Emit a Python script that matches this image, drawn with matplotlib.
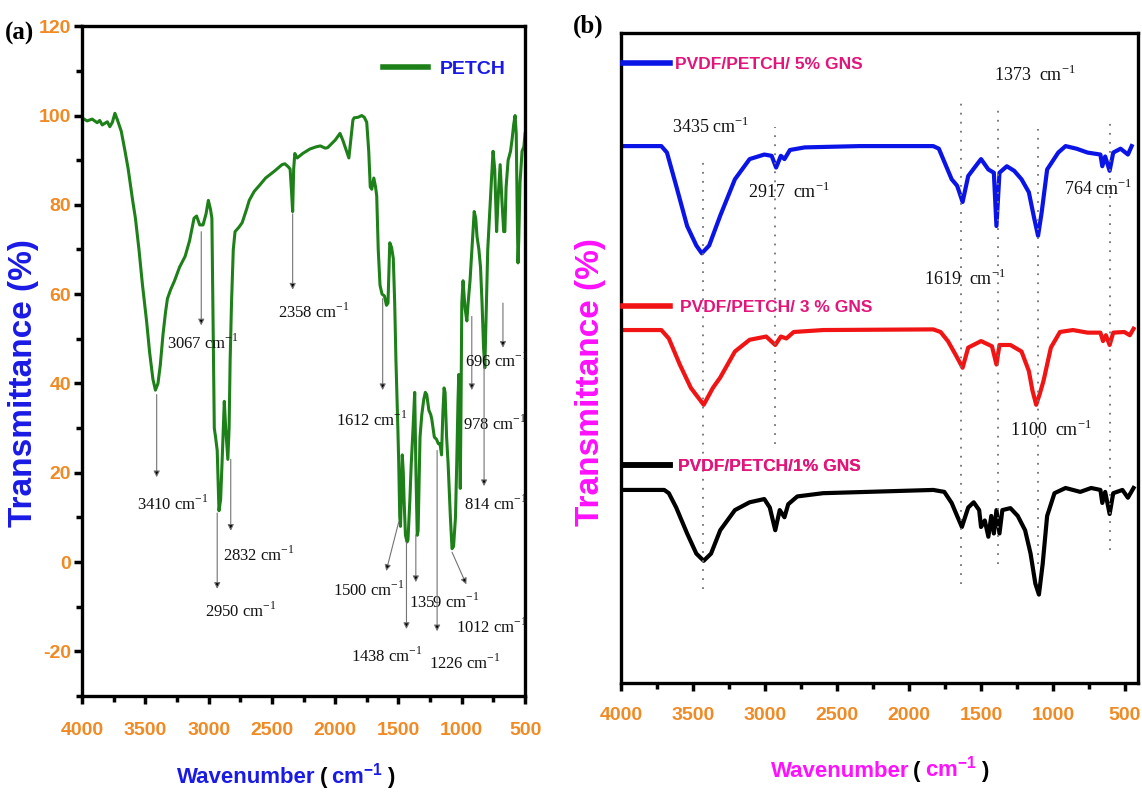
import matplotlib
matplotlib.use('Agg')
import matplotlib.pyplot as plt
from matplotlib.ticker import MultipleLocator
from matplotlib.lines import Line2D
from matplotlib.offsetbox import TextArea, HPacker, AnchoredOffsetbox

plt.rcParams['font.family'] = 'Liberation Sans'
plt.rcParams['mathtext.fontset'] = 'custom'
plt.rcParams['mathtext.rm'] = 'Liberation Serif'
plt.rcParams['mathtext.bf'] = 'Liberation Sans:bold'
plt.rcParams['axes.unicode_minus'] = False

# ---- panel (a): PETCH spectrum ----
petch_wn = [4000, 3960, 3920, 3880, 3860, 3840, 3800, 3780, 3760, 3740, 3720, 3690, 3660, 3635,
            3600, 3578, 3550, 3522, 3490, 3466, 3440, 3420, 3400, 3382, 3360, 3340, 3325, 3300,
            3269, 3230, 3185, 3150, 3115, 3095, 3070, 3044, 3020, 3002, 2985, 2974, 2965, 2955,
            2945, 2932, 2918, 2905, 2890, 2876, 2865, 2848, 2838, 2830, 2819, 2805, 2791, 2760,
            2735, 2700, 2679, 2640, 2594, 2550, 2482, 2420, 2398, 2370, 2356, 2345, 2336, 2328,
            2319, 2300, 2257, 2200, 2150, 2117, 2080, 2060, 2000, 1962, 1940, 1910, 1892, 1875,
            1860, 1850, 1820, 1790, 1770, 1751, 1735, 1723, 1711, 1695, 1681, 1672, 1660, 1646,
            1630, 1611, 1595, 1583, 1575, 1569, 1555, 1541, 1530, 1520, 1512, 1505, 1498, 1490,
            1484, 1478, 1470, 1462, 1456, 1445, 1432, 1425, 1410, 1400, 1385, 1372, 1362, 1352,
            1345, 1330, 1316, 1300, 1288, 1277, 1260, 1245, 1237, 1217, 1200, 1185, 1172, 1160,
            1150, 1140, 1132, 1120, 1108, 1090, 1077, 1065, 1050, 1040, 1030, 1024, 1018, 1012,
            1006, 1000, 990, 975, 960, 950, 935, 920, 902, 890, 880, 865, 852, 840, 828, 818,
            808, 795, 781, 765, 753, 740, 725, 712, 697, 690, 683, 669, 660, 650, 634, 615, 603,
            590, 579, 570, 563, 556, 550, 540, 524, 510, 500]
petch_t = [99.5, 98.8, 99.2, 98.4, 98.9, 97.9, 98.6, 97.5, 98.5, 100.5, 99.0, 96.5, 92, 88,
           81, 77, 70, 62, 54, 47, 41, 38.5, 40, 44, 51, 56, 59, 61,
           63, 66, 68.5, 72, 77, 77.5, 75.5, 75.5, 78, 81, 79, 77, 55, 30,
           28, 25, 11.5, 14, 25, 36, 30, 23, 30, 45, 58, 70, 74, 75,
           76, 79, 81, 83, 84.5, 86, 87.5, 89, 89.2, 88.5, 88, 83, 78.5, 88,
           91.5, 90.5, 91.5, 92.5, 93, 93.2, 92.7, 92.8, 94.5, 96, 94.5, 92, 90.5, 95,
           99, 99.5, 99.6, 100, 99.6, 98.5, 92, 84, 83.5, 86, 84, 82, 70, 62,
           60, 59.6, 57.5, 58, 66, 71.5, 70.5, 68, 58, 45, 37, 30, 22, 10,
           8, 15, 24, 20, 14, 6, 4.5, 5, 14, 21.5, 30, 38, 20, 6,
           7, 28, 33, 36.5, 38, 37.5, 34, 33, 32, 28, 27.5, 26.5, 26.5, 24,
           33, 39, 38, 28, 22, 10, 3, 3.5, 10, 22, 36, 42, 30, 16.5,
           35, 58, 63, 57, 54, 58, 63, 70, 78.5, 77, 73, 70, 66, 58, 48, 43.5,
           55, 70, 77.5, 86, 92, 88, 74, 82, 89, 85, 81, 74, 74, 84, 90, 92, 94.6,
           98, 100, 96, 80, 67, 72, 85, 92, 93, 96]

# band labels for panel (a): (label, arrow start, arrow end, text left/centre)
bands_a = ['3410', '3067', '2950', '2832', '2358', '1612', '1500', '1438', '1359',
           '1226', '1012', '978', '814', '696']
arrow_start_a = [(3410, 37.5), (3058, 74), (2932, 11), (2825, 23), (2336, 78), (1625, 59),
                 (1498, 9), (1437, 4.4), (1363, 6), (1195, 25), (1077, 2.2), (921, 55),
                 (824, 43.7), (675, 58)]
arrow_end_a = [(3410, 19), (3058, 53), (2932, -6), (2825, 7), (2336, 61), (1625, 38.5),
               (1597, -2), (1437, -15), (1363, -4.5), (1195, -15.5), (964, -5), (921, 38.5),
               (824, 17), (675, 48)]
text_pos_a = [(3564, 13), (3331, 49), (3030, -11), (2890, 1.5), (2454, 56), (1990, 31.8),
              (2020, -6.3), (1878, -21), (1414, -9), (1259, -22.6), (1049, -14.5), (992, 31),
              (980, 13), (978, 45)]

# ---- panel (b): composite spectra (offset, arbitrary units) ----
wn_5 = [4000, 3720, 3681, 3617, 3541, 3477, 3439, 3388, 3311, 3209, 3107, 3005, 2954, 2923,
        2890, 2865, 2827, 2724, 2342, 1832, 1793, 1742, 1704, 1666, 1628, 1589, 1538, 1500,
        1449, 1411, 1393, 1372, 1321, 1270, 1219, 1168, 1130, 1104, 1079, 1041, 964, 913,
        837, 760, 671, 658, 638, 607, 582, 531, 480, 454]
t_5 = [82.6, 82.6, 81.6, 76.5, 70.3, 67.3, 66.1, 67.3, 71.9, 77.5, 80.6, 81.3, 81.1, 79.3,
       81.1, 80.6, 82, 82.4, 82.6, 82.6, 82.2, 79.5, 77.5, 76.5, 74, 78, 79.5, 80.6,
       79, 78.5, 70.3, 78.5, 79.5, 78.8, 77.5, 75.5, 71.4, 68.8, 72.4, 79, 81.6, 82.6,
       82.2, 81.6, 81.3, 79.5, 81, 78.8, 81.6, 82.2, 81.3, 82.6]
wn_3 = [4000, 3720, 3668, 3592, 3515, 3426, 3362, 3311, 3209, 3107, 2992, 2929, 2890, 2852,
        2801, 2597, 1832, 1781, 1730, 1679, 1628, 1589, 1500, 1424, 1393, 1372, 1296, 1219,
        1168, 1143, 1117, 1092, 1066, 1015, 952, 862, 760, 671, 653, 633, 607, 582, 505,
        467, 441]
t_3 = [54.3, 54.3, 53, 49, 45.4, 42.8, 45.4, 47, 51, 52.8, 53.3, 52, 53.3, 53,
       54, 54.3, 54.4, 54, 52.6, 50.6, 48.5, 51.6, 52.6, 51.8, 49, 52, 52, 51,
       48, 45, 42.8, 44.5, 46.5, 51.6, 54, 54.3, 53.9, 53.9, 52.6, 53.5, 52, 53.9, 54,
       53.5, 54.5]
wn_1 = [4000, 3700, 3668, 3617, 3541, 3477, 3426, 3375, 3311, 3209, 3107, 3005, 2967, 2929,
        2898, 2865, 2839, 2776, 2597, 1832, 1755, 1704, 1666, 1633, 1589, 1551, 1513, 1500,
        1474, 1449, 1429, 1411, 1393, 1372, 1352, 1296, 1245, 1194, 1156, 1123, 1098, 1072,
        1041, 990, 913, 811, 735, 671, 658, 638, 607, 582, 518, 480, 441]
t_1 = [29.7, 29.7, 29.2, 27, 23, 19.9, 18.8, 19.9, 23.5, 26.6, 27.8, 28.3, 27, 23.5,
       26.6, 25.5, 27.5, 28.7, 29.2, 29.7, 29.4, 27.7, 25.7, 24, 27, 27.8, 26.6, 24,
       25, 22.5, 25.7, 23, 26.6, 23, 26.6, 26.9, 25.7, 23.5, 19.9, 15.3, 13.6, 18.3,
       25.7, 29.2, 30, 29.4, 30, 29.7, 27.7, 29.4, 26, 29.2, 29.7, 28.5, 30]

series_b = ['PVDF/PETCH/ 5% GNS', 'PVDF/PETCH/ 3 % GNS', 'PVDF/PETCH/1% GNS']
colors_b = ['#0a14e6', '#f01414', '#000000']
legend_y_b = [0.951, 0.578, 0.333]
legend_pad_b = [0.3, 0.6, 0.5]

# dotted guide lines (wavenumber, bottom, top)
guide_x = [3434, 2929, 1640, 1385, 1104, 602]
guide_lo = [14.4, 36.7, 15.3, 18.3, 18.3, 20.5]
guide_hi = [80.6, 85.5, 89.8, 88.7, 85.2, 86.7]

bands_b = ['3435 ', '2917  ', '1373  ', '1619  ', '764 ', '1100  ']
text_pos_b = [(3643, 85.5), (3120, 75.5), (1411, 93.6), (1895, 62.2), (926, 76), (1296, 39)]

tick_color = '#f08a24'
serif = 'Liberation Serif'

fig = plt.figure(figsize=(11.42, 7.95), dpi=100)
ax1 = fig.add_axes([0.0718, 0.1245, 0.388, 0.8425])
ax2 = fig.add_axes([0.5438, 0.1409, 0.4527, 0.8176])

# ---------- panel a ----------
ax1.plot(petch_wn, petch_t, color='#1e8019', lw=2.2, label='PETCH')
ax1.set_xlim(4000, 500)
ax1.set_ylim(-30, 120)
ax1.xaxis.set_major_locator(MultipleLocator(500))
ax1.xaxis.set_minor_locator(MultipleLocator(250))
ax1.yaxis.set_major_locator(MultipleLocator(20))
ax1.yaxis.set_minor_locator(MultipleLocator(10))
ax1.tick_params(which='both', direction='out', width=2.5, top=False, right=False,
                labelsize=14, labelcolor=tick_color)
ax1.tick_params(which='major', length=6)
ax1.tick_params(which='minor', length=4)
ax1.tick_params(axis='x', which='major', pad=13)
ax1.tick_params(axis='y', which='major', pad=2)
for lab in ax1.get_xticklabels() + ax1.get_yticklabels():
    lab.set_fontweight('bold')
for sp in ax1.spines.values():
    sp.set_linewidth(2.4)

for name, a0, a1, tp in zip(bands_a, arrow_start_a, arrow_end_a, text_pos_a):
    ax1.annotate('', xy=a1, xytext=a0,
                 arrowprops=dict(arrowstyle='-|>', lw=0.8, ec='0.45', fc='k',
                                 mutation_scale=9, shrinkA=0, shrinkB=0))
    ax1.text(tp[0], tp[1], name + ' cm$^{-1}$', fontsize=12, family=serif,
             ha='left', va='center', color='#111111')

leg = ax1.legend(loc='upper right', bbox_to_anchor=(0.995, 0.975), frameon=False,
                 handlelength=2.3, handletextpad=0.6,
                 prop={'size': 14, 'weight': 'bold'})
leg.get_lines()[0].set_linewidth(4)
for t in leg.get_texts():
    t.set_color('#1a1ae6')

# ---------- panel b ----------
for wn, tt, c in zip([wn_5, wn_3, wn_1], [t_5, t_3, t_1], colors_b):
    ax2.plot(wn, tt, color=c, lw=3)
ax2.vlines(guide_x, guide_lo, guide_hi, colors='0.45', linestyles=(0, (1, 4)), lw=1.3)
ax2.set_xlim(4000, 410)
ax2.set_ylim(0, 100)
ax2.xaxis.set_major_locator(MultipleLocator(500))
ax2.xaxis.set_minor_locator(MultipleLocator(250))
ax2.set_yticks([])
ax2.tick_params(axis='x', which='both', direction='out', width=2.5, top=False,
                labelsize=14, labelcolor=tick_color)
ax2.tick_params(axis='x', which='major', length=6, pad=11)
ax2.tick_params(axis='x', which='minor', length=4)
for lab in ax2.get_xticklabels():
    lab.set_fontweight('bold')
for sp in ax2.spines.values():
    sp.set_linewidth(2.4)

for name, tp in zip(bands_b, text_pos_b):
    ax2.text(tp[0], tp[1], name + 'cm$^{-1}$', fontsize=13, family=serif,
             ha='left', va='center', color='#111111')

for name, c, ly, pad in zip(series_b, colors_b, legend_y_b, legend_pad_b):
    lg = ax2.legend([Line2D([], [], color=c, lw=4)], [name], loc='center left',
                    bbox_to_anchor=(0.0, ly), frameon=False, borderaxespad=0.1,
                    borderpad=0, handlelength=2.7, handletextpad=pad,
                    prop={'size': 12.5, 'weight': 'bold'})
    lg.get_texts()[0].set_color('#e4157a')
    ax2.add_artist(lg)

# ---------- axis titles ----------
fig.text(0.021, 0.518, 'Transmittance (%)', rotation=90, ha='center', va='center',
         fontsize=24, fontweight='bold', color='#1a1ae6')
fig.text(0.517, 0.52, 'Transmittance (%)', rotation=90, ha='center', va='center',
         fontsize=24, fontweight='bold', color='#ff10ff')


def xlabel(ax, col, x, y):
    kw = dict(size=16, weight='bold')
    parts = [TextArea('Wavenumber', textprops=dict(color=col, **kw)),
             TextArea('(', textprops=dict(color='k', **kw)),
             TextArea('cm$^{\\mathbf{-1}}$', textprops=dict(color=col, **kw)),
             TextArea(')', textprops=dict(color='k', **kw))]
    box = HPacker(children=parts, align='baseline', pad=0, sep=3)
    ab = AnchoredOffsetbox(loc='center', child=box, pad=0, frameon=False,
                           bbox_to_anchor=(x, y), bbox_transform=fig.transFigure,
                           borderpad=0)
    ax.add_artist(ab)


xlabel(ax1, '#1a1ae6', 0.25, 0.025)
xlabel(ax2, '#ff10ff', 0.77, 0.033)

fig.text(0.004, 0.958, '(a)', family=serif, fontsize=18, fontweight='bold', va='center')
fig.text(0.502, 0.967, '(b)', family=serif, fontsize=18, fontweight='bold', va='center')

fig.savefig('out.png', dpi=100)
